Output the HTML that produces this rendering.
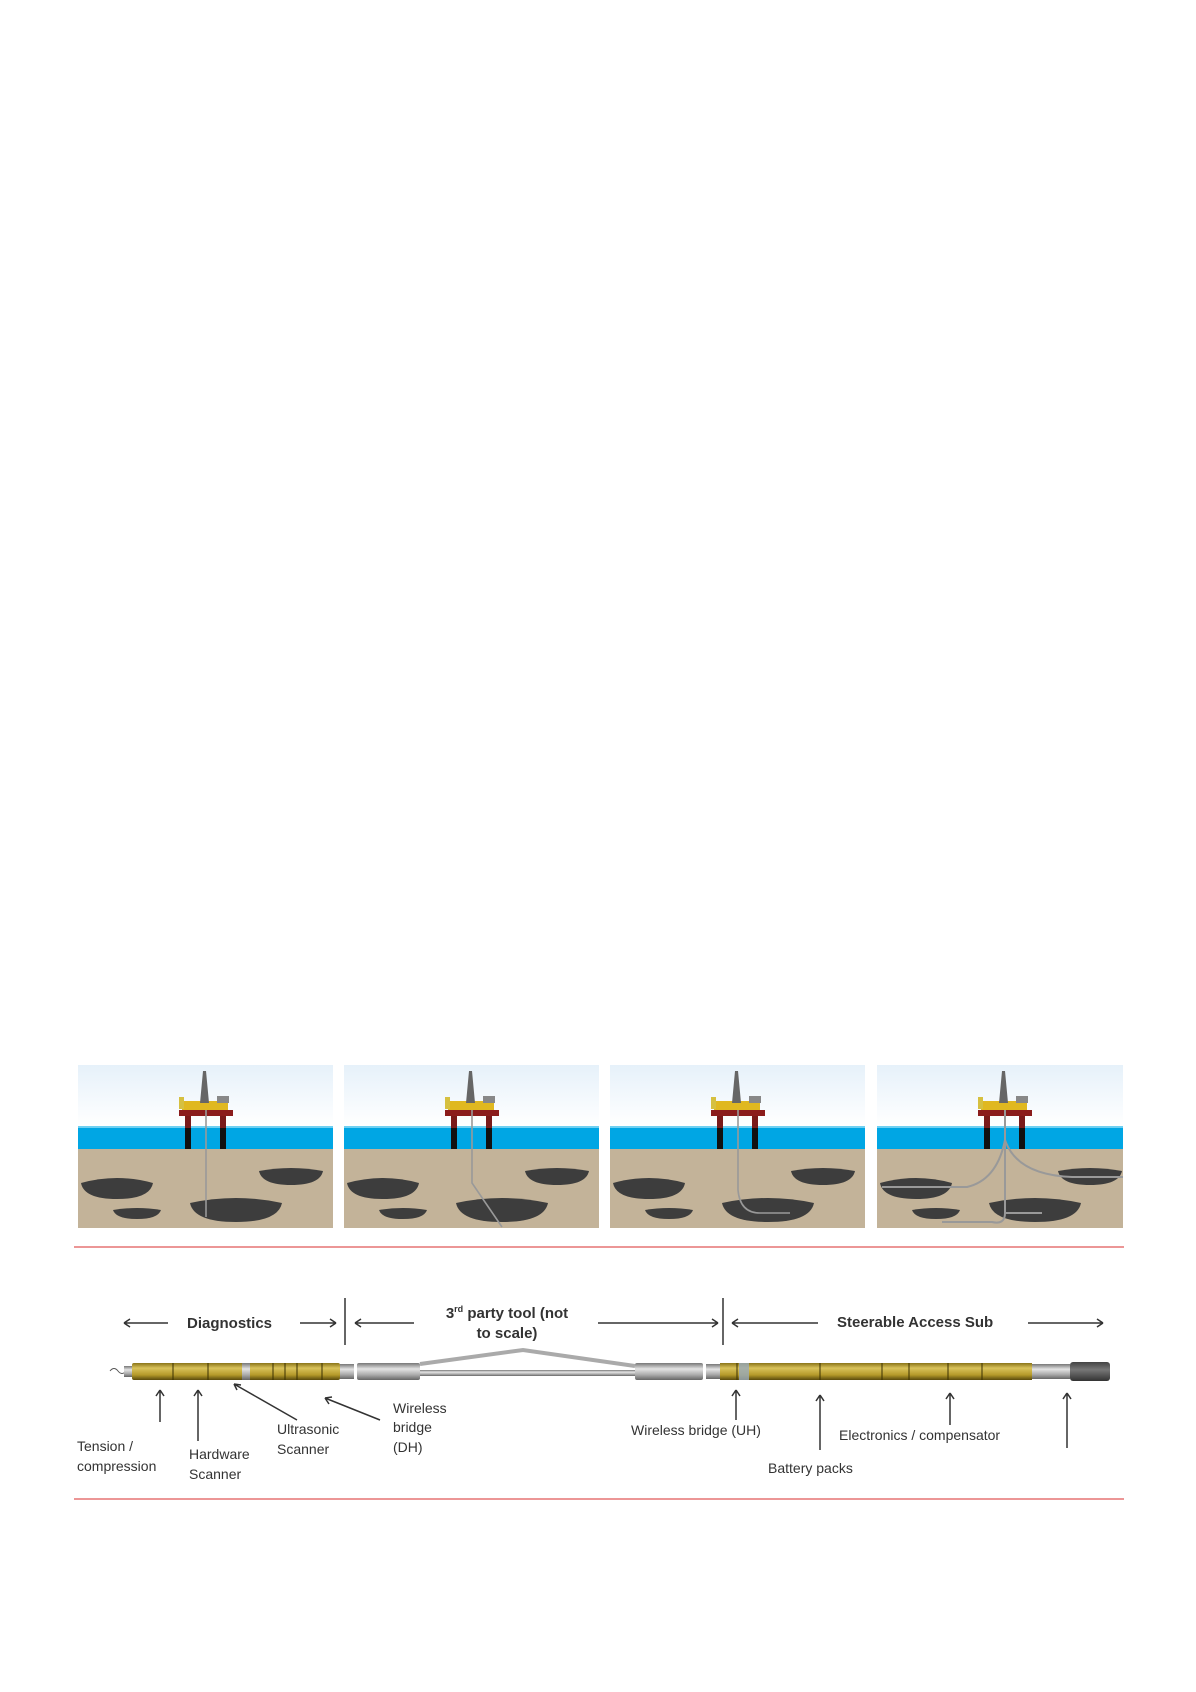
<!DOCTYPE html>
<html><head><meta charset="utf-8"><style>
html,body{margin:0;padding:0;background:#fff;}
svg{display:block;}
text{font-family:"Liberation Sans",sans-serif;fill:#333;}
</style></head><body>
<svg width="1196" height="1692" viewBox="0 0 1196 1692" xmlns="http://www.w3.org/2000/svg">
<defs>
<linearGradient id="sky" x1="0" y1="0" x2="0" y2="1"><stop offset="0" stop-color="#e6f1fa"/><stop offset="1" stop-color="#ffffff"/></linearGradient>
<linearGradient id="gold" x1="0" y1="0" x2="0" y2="1"><stop offset="0" stop-color="#8a7418"/><stop offset="0.3" stop-color="#d9c25a"/><stop offset="0.7" stop-color="#b59a2a"/><stop offset="1" stop-color="#5a4a0c"/></linearGradient>
<linearGradient id="steel" x1="0" y1="0" x2="0" y2="1"><stop offset="0" stop-color="#777"/><stop offset="0.35" stop-color="#e4e4e4"/><stop offset="0.7" stop-color="#aaa"/><stop offset="1" stop-color="#666"/></linearGradient>
<linearGradient id="dark" x1="0" y1="0" x2="0" y2="1"><stop offset="0" stop-color="#444"/><stop offset="0.4" stop-color="#777"/><stop offset="1" stop-color="#333"/></linearGradient>
<clipPath id="c4"><rect x="0" y="0" width="246" height="163"/></clipPath>
<g id="base" stroke="none">
<rect x="0" y="0" width="255" height="61" fill="url(#sky)"/>
<rect x="0" y="61" width="255" height="23" fill="#00a6e4"/>
<rect x="0" y="61" width="255" height="2" fill="#6fd0f2"/>
<rect x="0" y="84" width="255" height="79" fill="#c3b399"/>
<path d="M3 118 Q39 108 75 118 Q72 134 39 134 Q6 134 3 118 Z" fill="#3d3d3d"/>
<path d="M35 145 Q59 141 83 145 Q80 154 59 154 Q38 154 35 145 Z" fill="#3d3d3d"/>
<path d="M112 138 Q158 128 204 138 Q200 157 158 157 Q116 157 112 138 Z" fill="#3d3d3d"/>
<path d="M181 106 Q213 100 245 106 Q242 120 213 120 Q184 120 181 106 Z" fill="#3d3d3d"/>
<rect x="107" y="51" width="6" height="12" fill="#7a1a1a"/><rect x="107" y="63" width="6" height="21" fill="#111"/>
<rect x="142" y="51" width="6" height="12" fill="#7a1a1a"/><rect x="142" y="63" width="6" height="21" fill="#111"/>
<rect x="101" y="45" width="54" height="6" fill="#8b1c1c"/>
<rect x="104" y="36" width="46" height="9" fill="#e0b820"/>
<rect x="101" y="32" width="5" height="12" fill="#d6c040"/>
<rect x="139" y="31" width="12" height="7" fill="#888"/>
<path d="M125 6 L128 6 L131 38 L122 38 Z" fill="#666"/>
</g>
</defs>
<g transform="translate(78,1065)"><use href="#base"/><path d="M128 45 V152" stroke="#999" stroke-width="1.6" fill="none"/></g>
<g transform="translate(344,1065)"><use href="#base"/><path d="M128 45 V118 L158 162" stroke="#999" stroke-width="1.6" fill="none"/></g>
<g transform="translate(610,1065)"><use href="#base"/><path d="M128 45 V125 Q130 148 150 148 H180" stroke="#999" stroke-width="1.6" fill="none"/></g>
<g transform="translate(877,1065)" clip-path="url(#c4)"><use href="#base"/><path d="M128 45 V148 H165 M128 148 Q128 160 115 157 H65 M128 75 Q120 115 90 122 H5 M128 75 Q140 110 195 112 H246" stroke="#999" stroke-width="2" fill="none"/></g>
<line x1="74" y1="1247" x2="1124" y2="1247" stroke="#e57373" stroke-width="1.5"/>
<line x1="74" y1="1499" x2="1124" y2="1499" stroke="#e57373" stroke-width="1.5"/>
<g stroke="#333" stroke-width="1.5" fill="none">
<path d="M124 1323 H168 M124 1323 l6 -4 M124 1323 l6 4"/>
<path d="M300 1323 H336 M336 1323 l-6 -4 M336 1323 l-6 4"/>
<path d="M355 1323 H414 M355 1323 l6 -4 M355 1323 l6 4"/>
<path d="M598 1323 H718 M718 1323 l-6 -4 M718 1323 l-6 4"/>
<path d="M732 1323 H818 M732 1323 l6 -4 M732 1323 l6 4"/>
<path d="M1028 1323 H1103 M1103 1323 l-6 -4 M1103 1323 l-6 4"/>
<line x1="345" y1="1298" x2="345" y2="1345"/>
<line x1="723" y1="1298" x2="723" y2="1345"/>
</g>
<text x="187" y="1328" font-size="15" font-weight="bold">Diagnostics</text>
<text x="507" y="1318" font-size="15" font-weight="bold" text-anchor="middle">3<tspan font-size="9" dy="-6">rd</tspan><tspan dy="6"> party tool (not</tspan></text>
<text x="507" y="1338" font-size="15" font-weight="bold" text-anchor="middle">to scale)</text>
<text x="837" y="1327" font-size="15" font-weight="bold">Steerable Access Sub</text>
<path d="M110 1371 q4 -5 8 0 q4 5 8 0" stroke="#555" fill="none"/>
<rect x="124" y="1366" width="9" height="11" fill="url(#steel)"/>
<rect x="132" y="1363" width="208" height="17" rx="2" fill="url(#gold)"/>
<rect x="242" y="1363" width="8" height="17" fill="url(#steel)"/>
<rect x="340" y="1364" width="14" height="15" fill="url(#steel)"/>
<rect x="357" y="1363" width="63" height="17" rx="2" fill="url(#steel)"/>
<rect x="420" y="1370" width="215" height="6" fill="url(#steel)"/>
<path d="M420 1364 L523 1350 L635 1366" stroke="#aaa" stroke-width="4" fill="none"/>
<rect x="635" y="1363" width="68" height="17" rx="2" fill="url(#steel)"/>
<rect x="706" y="1364" width="14" height="15" fill="url(#steel)"/>
<rect x="720" y="1363" width="312" height="17" fill="url(#gold)"/>
<rect x="739" y="1363" width="10" height="17" fill="#9ab" opacity="0.8"/>
<rect x="1032" y="1364" width="38" height="15" fill="url(#steel)"/>
<rect x="1070" y="1362" width="40" height="19" rx="3" fill="url(#dark)"/>
<g stroke="#3a3000" stroke-width="1">
<line x1="173" y1="1363" x2="173" y2="1380"/><line x1="208" y1="1363" x2="208" y2="1380"/>
<line x1="273" y1="1363" x2="273" y2="1380"/><line x1="285" y1="1363" x2="285" y2="1380"/>
<line x1="297" y1="1363" x2="297" y2="1380"/><line x1="322" y1="1363" x2="322" y2="1380"/>
<line x1="737" y1="1363" x2="737" y2="1380"/>
<line x1="820" y1="1363" x2="820" y2="1380"/><line x1="882" y1="1363" x2="882" y2="1380"/>
<line x1="909" y1="1363" x2="909" y2="1380"/><line x1="948" y1="1363" x2="948" y2="1380"/>
<line x1="982" y1="1363" x2="982" y2="1380"/>
</g>
<g stroke="#333" stroke-width="1.5" fill="none">
<path d="M160 1422 V1390 M160 1390 l-4 6 M160 1390 l4 6"/>
<path d="M198 1441 V1390 M198 1390 l-4 6 M198 1390 l4 6"/>
<path d="M297 1420 L234 1384 M234 1384 l7 1 M234 1384 l3 6"/>
<path d="M380 1420 L325 1398 M325 1398 l7 -1 M325 1398 l4 6"/>
<path d="M736 1420 V1390 M736 1390 l-4 6 M736 1390 l4 6"/>
<path d="M820 1450 V1395 M820 1395 l-4 6 M820 1395 l4 6"/>
<path d="M950 1425 V1393 M950 1393 l-4 6 M950 1393 l4 6"/>
<path d="M1067 1448 V1393 M1067 1393 l-4 6 M1067 1393 l4 6"/>
</g>
<g font-size="14">
<text x="77" y="1451">Tension /</text>
<text x="77" y="1471">compression</text>
<text x="189" y="1459">Hardware</text>
<text x="189" y="1479">Scanner</text>
<text x="277" y="1434">Ultrasonic</text>
<text x="277" y="1454">Scanner</text>
<text x="393" y="1413">Wireless</text>
<text x="393" y="1432">bridge</text>
<text x="393" y="1452">(DH)</text>
<text x="631" y="1435">Wireless bridge (UH)</text>
<text x="839" y="1440">Electronics / compensator</text>
<text x="768" y="1473">Battery packs</text>
</g>
</svg>
</body></html>
